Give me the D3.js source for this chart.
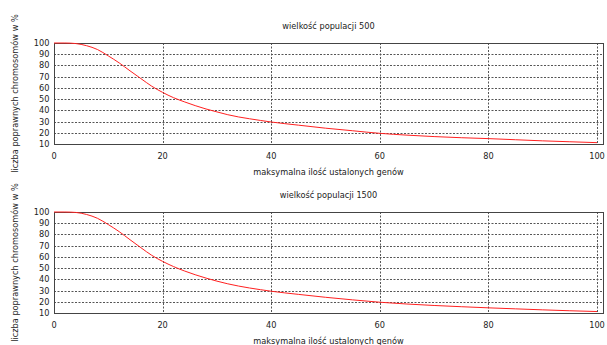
<!DOCTYPE html>
<html>
<head>
<meta charset="utf-8">
<style> body { margin: 0; background: #fff; } text { font-family: "DejaVu Sans", sans-serif; font-size: 8.2px; fill: #222; } </style>
<script src="https://d3js.org/d3.v7.min.js"></script>
</head>
<body>
<div id="chart"></div>
<script>
const W = 607, H = 345;

// max number of fixed genes (x) and % correct chromosomes (y)
const genes = [0, 2, 4, 6, 8, 10, 12, 14, 16, 18, 20, 22, 24, 26, 28, 30, 32, 34, 36, 38, 40, 45, 50, 55, 60, 65, 70, 75, 80, 85, 90, 95, 100];
const pop500 = [100, 100, 99.5, 97.6, 94.2, 88.5, 82.3, 75.2, 68.3, 61.5, 56, 51.3, 47.6, 44.2, 41.2, 38.6, 36.1, 34.1, 32.5, 31, 29.6, 26.8, 24.1, 21.8, 19.5, 17.9, 16.6, 15.6, 14.8, 13.8, 12.8, 12, 11.2];
const pop1500 = [100, 100, 99.6, 97.8, 94.4, 88.8, 82.5, 75.3, 68.2, 61.4, 56, 51.4, 47.5, 44.1, 41.1, 38.4, 36, 34, 32.3, 30.8, 29.4, 26.6, 24, 21.7, 19.6, 18, 16.7, 15.6, 14.6, 13.7, 12.8, 12, 11.3];

const yTicks = [10, 20, 30, 40, 50, 60, 70, 80, 90, 100];
const xTicks = [0, 20, 40, 60, 80, 100];

const panels = [
  { title: "wielkość populacji 500", values: pop500, top: 43, bottom: 144 },
  { title: "wielkość populacji 1500", values: pop1500, top: 212, bottom: 313 }
];

const left = 54, right = 603;

const svg = d3.select("#chart").append("svg")
  .attr("width", W).attr("height", H);

const x = d3.scaleLinear().domain([0, 101.1]).range([left, right]);

panels.forEach(function(p) {
  const y = d3.scaleLinear().domain([10, 100]).range([p.bottom, p.top]);
  const g = svg.append("g");

  // grid
  g.selectAll(".hg").data(yTicks.slice(1, -1)).enter().append("line")
    .attr("x1", left).attr("x2", right)
    .attr("y1", d => Math.round(y(d)) + 0.5).attr("y2", d => Math.round(y(d)) + 0.5)
    .attr("stroke", "#555").attr("stroke-dasharray", "2,1.5");
  g.selectAll(".vg").data(xTicks.slice(1)).enter().append("line")
    .attr("y1", p.top).attr("y2", p.bottom)
    .attr("x1", d => Math.round(x(d)) + 0.5).attr("x2", d => Math.round(x(d)) + 0.5)
    .attr("stroke", "#555").attr("stroke-dasharray", "2,1.5");

  // tick labels
  g.selectAll(".yl").data(yTicks).enter().append("text")
    .attr("x", 49.5).attr("y", d => y(d) + 3)
    .attr("text-anchor", "end").text(d => d);
  g.selectAll(".xl").data(xTicks).enter().append("text")
    .attr("x", d => x(d)).attr("y", p.bottom + 15)
    .attr("text-anchor", "middle").text(d => d);

  // border
  g.append("rect")
    .attr("x", left + 0.5).attr("y", p.top + 0.5)
    .attr("width", right - left).attr("height", p.bottom - p.top)
    .attr("fill", "none").attr("stroke", "#444");

  // curve
  const line = d3.line()
    .x((d, i) => x(genes[i]))
    .y(d => y(d))
    .curve(d3.curveMonotoneX);
  g.append("path").datum(p.values)
    .attr("d", line)
    .attr("fill", "none").attr("stroke", "#ff2020").attr("stroke-width", 1);

  // titles
  g.append("text").attr("x", (left + right) / 2).attr("y", p.top - 14.5)
    .attr("text-anchor", "middle").text(p.title);
  g.append("text").attr("x", (left + right) / 2).attr("y", p.bottom + 31)
    .attr("text-anchor", "middle").text("maksymalna ilość ustalonych genów");
  g.append("text")
    .attr("transform", "translate(18," + ((p.top + p.bottom) / 2) + ") rotate(-90)")
    .attr("text-anchor", "middle").text("liczba poprawnych chromosomów w %");
});
</script>
</body>
</html>
